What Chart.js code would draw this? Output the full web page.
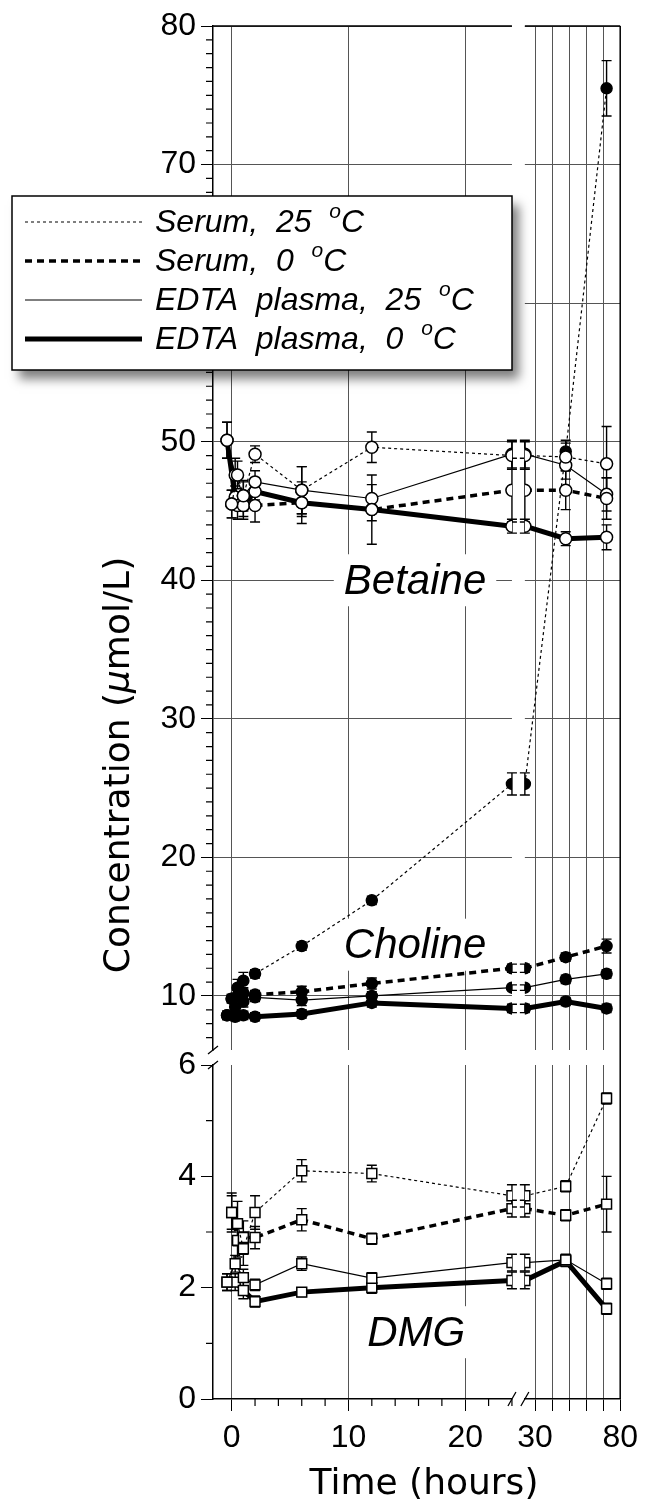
<!DOCTYPE html>
<html>
<head>
<meta charset="utf-8">
<script src="https://cdn.jsdelivr.net/npm/chart.js@4.4.1/dist/chart.umd.min.js"></script>
<style>
  body { margin: 0; background: #fff; }
  canvas { display: block; }
</style>
</head>
<body>
<canvas id="chart" width="646" height="1507"></canvas>
<script>
// sampling times (hours); the 24 h sample is drawn on both sides of the axis break
const serumTimes = [0, 0.5, 1, 2, 6, 12, 24, 48, 72];
const plasmaTimes = [-0.4, 0.3, 1, 2, 6, 12, 24, 48, 72];
const splitIndex = 6;

const seriesNames = ['Serum,  25  ', 'Serum,  0  ', 'EDTA  plasma,  25  ', 'EDTA  plasma,  0  '];

// Betaine (umol/L)
const betaineSerum25 = [45.5, 47.6, 46.1, 49.1, 46.5, 49.6, 49.0, 48.9, 48.4];
const betaineSerum0 = [45.5, 45.4, 45.4, 45.4, 45.6, 45.1, 46.5, 46.5, 45.9];
const betaineEdta25 = [50.1, 47.6, 46.1, 47.1, 46.5, 45.9, 49.1, 48.3, 46.2];
const betaineEdta0 = [50.1, 46.0, 45.4, 46.4, 45.6, 45.1, 43.9, 43.0, 43.1];
const betaineSerum25Err = [1.0, 1.0, 1.0, 0.6, 1.7, 1.1, 1.0, 1.0, 2.7];
const betaineSerum0Err = [1.0, 1.0, 1.0, 1.2, 1.5, 2.5, 2.3, 1.4, 1.5];
const betaineEdta25Err = [1.3, 1.2, 1.1, 0.8, 1.7, 1.0, 1.0, 1.0, 1.2];
const betaineEdta0Err = [1.3, 0.8, 0.8, 0.6, 1.0, 0.8, 0.5, 0.5, 0.9];

// Choline (umol/L)
const cholineSerum25 = [9.8, 10.6, 11.1, 11.6, 13.6, 16.9, 25.3, 49.3, 75.5];
const cholineSerum0 = [9.8, 10.0, 10.2, 10.1, 10.3, 10.9, 12.0, 12.8, 13.6];
const cholineEdta25 = [8.6, 9.2, 9.6, 9.9, 9.7, 10.0, 10.6, 11.2, 11.6];
const cholineEdta0 = [8.6, 8.5, 8.6, 8.5, 8.7, 9.5, 9.1, 9.6, 9.1];
const cholineSerum25Err = [0.3, 0.6, 0.6, 0.3, 0.3, 0.3, 0.8, 0.8, 2.0];
const cholineSerum0Err = [0.3, 0.4, 0.4, 0.3, 0.4, 0.4, 0.3, 0.3, 0.5];
const cholineEdta25Err = [0.3, 0.4, 0.4, 0.3, 0.4, 0.3, 0.2, 0.3, 0.3];
const cholineEdta0Err = [0.3, 0.3, 0.3, 0.3, 0.3, 0.3, 0.3, 0.3, 0.3];

// DMG (umol/L)
const dmgSerum25 = [3.35, 3.15, 2.7, 3.35, 4.1, 4.05, 3.65, 3.82, 5.4];
const dmgSerum0 = [3.35, 2.85, 2.9, 2.9, 3.22, 2.88, 3.42, 3.3, 3.5];
const dmgEdta25 = [2.1, 2.43, 2.18, 2.05, 2.43, 2.17, 2.45, 2.5, 2.07];
const dmgEdta0 = [2.1, 2.1, 1.95, 1.75, 1.92, 2.0, 2.13, 2.48, 1.62];
const dmgSerum25Err = [0.35, 0.4, 0.3, 0.3, 0.2, 0.15, 0.2, 0.1, 0.1];
const dmgSerum0Err = [0.3, 0.3, 0.3, 0.2, 0.2, 0.1, 0.15, 0.1, 0.5];
const dmgEdta25Err = [0.15, 0.15, 0.15, 0.1, 0.12, 0.1, 0.15, 0.1, 0.1];
const dmgEdta0Err = [0.15, 0.15, 0.15, 0.1, 0.08, 0.1, 0.15, 0.1, 0.1];

// axis labels
const yTopLabels = [10, 20, 30, 40, 50, 60, 70, 80];
const yBottomLabels = [0, 2, 4, 6];
const xLeftLabels = [0, 10, 20];
const xRightLabels = [30, 80];
const xRightGrid = [30, 40, 50, 60, 70];

const lineStyles = [
  { width: 1.2, dash: [3, 3] },
  { width: 3.5, dash: [7, 5] },
  { width: 1.2, dash: [] },
  { width: 5, dash: [] }
];
const openCircle = { style: 'circle', radius: 6, fill: '#fff' };
const dot = { style: 'circle', radius: 5.5, fill: '#000' };
const openSquare = { style: 'rect', radius: 7, fill: '#fff' };

const sans = '"Liberation Sans", Arial, Helvetica, sans-serif';
const wide = '"DejaVu Sans", Verdana, sans-serif';
const gridGray = '#555';

function range(a, b, step) {
  const r = [];
  for (let v = a; v <= b + 1e-9; v += step) r.push(+v.toFixed(3));
  return r;
}

function buildSets(values, errors, times, style, marker, yAxisID) {
  const pts = values.map((v, i) => ({ x: times[i], y: v }));
  const base = {
    borderColor: '#000', borderWidth: style.width, borderDash: style.dash,
    pointStyle: marker.style, pointRadius: marker.radius, pointHoverRadius: marker.radius,
    pointBackgroundColor: marker.fill, pointBorderColor: '#000', pointBorderWidth: 1.5,
    tension: 0, fill: false, yAxisID: yAxisID
  };
  return [
    Object.assign({}, base, { xAxisID: 'xL', data: pts.slice(0, splitIndex + 1), errors: errors.slice(0, splitIndex + 1) }),
    Object.assign({}, base, { xAxisID: 'xR', data: pts.slice(splitIndex), errors: errors.slice(splitIndex) })
  ];
}

const datasets = [].concat(
  buildSets(betaineSerum25, betaineSerum25Err, serumTimes, lineStyles[0], openCircle, 'yTop'),
  buildSets(betaineSerum0, betaineSerum0Err, serumTimes, lineStyles[1], openCircle, 'yTop'),
  buildSets(betaineEdta25, betaineEdta25Err, plasmaTimes, lineStyles[2], openCircle, 'yTop'),
  buildSets(betaineEdta0, betaineEdta0Err, plasmaTimes, lineStyles[3], openCircle, 'yTop'),
  buildSets(cholineSerum25, cholineSerum25Err, serumTimes, lineStyles[0], dot, 'yTop'),
  buildSets(cholineSerum0, cholineSerum0Err, serumTimes, lineStyles[1], dot, 'yTop'),
  buildSets(cholineEdta25, cholineEdta25Err, plasmaTimes, lineStyles[2], dot, 'yTop'),
  buildSets(cholineEdta0, cholineEdta0Err, plasmaTimes, lineStyles[3], dot, 'yTop'),
  buildSets(dmgSerum25, dmgSerum25Err, serumTimes, lineStyles[0], openSquare, 'yBot'),
  buildSets(dmgSerum0, dmgSerum0Err, serumTimes, lineStyles[1], openSquare, 'yBot'),
  buildSets(dmgEdta25, dmgEdta25Err, plasmaTimes, lineStyles[2], openSquare, 'yBot'),
  buildSets(dmgEdta0, dmgEdta0Err, plasmaTimes, lineStyles[3], openSquare, 'yBot')
);

const tickFont = { family: sans, size: 32 };

function gapScale(pos, stack, weight) {
  return {
    type: 'linear', position: pos, stack: stack, stackWeight: weight,
    ticks: { display: false }, grid: { display: false }, border: { display: false },
    afterFit: s => { if (pos === 'left') s.width = 213; else s.height = 108; }
  };
}

// short minor ticks, drawn through the scales
function minorTicks(ctx, scale, values, majors, len) {
  values.filter(v => !majors.includes(v)).forEach(v => {
    const p = scale.getPixelForValue(v);
    if (scale.isHorizontal()) { ctx.moveTo(p, scale.top); ctx.lineTo(p, scale.top + len); }
    else { ctx.moveTo(scale.right, p); ctx.lineTo(scale.right - len, p); }
  });
}

// labels on white patches, gaps of the broken axes, error bars
const backdrop = {
  id: 'backdrop',
  beforeDatasetsDraw(chart) {
    const ctx = chart.ctx;
    const { xL, xR, yTop, yBot } = chart.scales;
    const area = chart.chartArea;
    ctx.save();
    ctx.fillStyle = '#fff';
    ctx.fillRect(xL.right, area.top - 2, xR.left - xL.right, area.bottom - area.top + 1);
    ctx.fillRect(area.left + 1, yTop.bottom, area.right - area.left, yBot.top - yTop.bottom);

    const labels = [
      { text: 'Betaine', x: xL.getPixelForValue(15.7), y: yTop.getPixelForValue(40) },
      { text: 'Choline', x: xL.getPixelForValue(15.7), y: yTop.getPixelForValue(13.7) },
      { text: 'DMG', x: xL.getPixelForValue(15.8), y: yBot.getPixelForValue(1.2) }
    ];
    ctx.font = 'italic 42px ' + sans;
    ctx.textAlign = 'center';
    ctx.textBaseline = 'middle';
    labels.forEach(l => {
      const w = ctx.measureText(l.text).width;
      ctx.fillStyle = '#fff';
      ctx.fillRect(l.x - w / 2 - 10, l.y - 26, w + 20, 52);
      ctx.fillStyle = '#000';
      ctx.fillText(l.text, l.x, l.y + 2);
    });

    ctx.strokeStyle = '#000';
    ctx.lineWidth = 1.4;
    chart.data.datasets.forEach(ds => {
      const xs = chart.scales[ds.xAxisID], ys = chart.scales[ds.yAxisID];
      ds.data.forEach((p, i) => {
        const e = ds.errors[i];
        if (!e) return;
        const x = xs.getPixelForValue(p.x);
        const y1 = ys.getPixelForValue(p.y - e);
        const y2 = ys.getPixelForValue(p.y + e);
        ctx.beginPath();
        ctx.moveTo(x, y1); ctx.lineTo(x, y2);
        ctx.moveTo(x - 5, y1); ctx.lineTo(x + 5, y1);
        ctx.moveTo(x - 5, y2); ctx.lineTo(x + 5, y2);
        ctx.stroke();
      });
    });
    ctx.restore();
  },
  afterDraw(chart) {
    const ctx = chart.ctx;
    const { xL, xR, yTop, yBot } = chart.scales;
    const area = chart.chartArea;
    ctx.save();
    // frame on top and right
    ctx.strokeStyle = '#000';
    ctx.lineWidth = 1.5;
    ctx.beginPath();
    ctx.moveTo(area.left, area.top); ctx.lineTo(xL.right, area.top);
    ctx.moveTo(xR.left, area.top); ctx.lineTo(area.right, area.top);
    ctx.moveTo(area.right, area.top); ctx.lineTo(area.right, area.bottom);
    ctx.stroke();
    // minor ticks
    ctx.lineWidth = 1.2;
    ctx.beginPath();
    minorTicks(ctx, yTop, range(7, 80, 1), yTopLabels, 7);
    minorTicks(ctx, yBot, range(0, 6, 1), yBottomLabels, 7);
    minorTicks(ctx, xL, range(0, 24, 2), xLeftLabels, 7);
    ctx.stroke();
    // break marks
    ctx.lineWidth = 1.3;
    ctx.beginPath();
    [yTop.bottom, yBot.top].forEach(y => { ctx.moveTo(area.left - 5, y + 4); ctx.lineTo(area.left + 5, y - 4); });
    [xL.right, xR.left].forEach(x => { ctx.moveTo(x - 4, area.bottom + 7); ctx.lineTo(x + 4, area.bottom - 7); });
    ctx.stroke();

    // axis titles
    ctx.fillStyle = '#000';
    ctx.textBaseline = 'middle';
    ctx.textAlign = 'center';
    ctx.font = '36px ' + wide;
    ctx.fillText('Time (hours)', 424, 1485);

    ctx.save();
    ctx.translate(120, 765);
    ctx.rotate(-Math.PI / 2);
    const parts = [['Concentration (', '36px '], ['\u03bc', 'italic 36px '], ['mol/L)', '36px ']];
    let total = 0;
    parts.forEach(p => { ctx.font = p[1] + wide; total += ctx.measureText(p[0]).width; });
    let x = -total / 2;
    ctx.textAlign = 'left';
    parts.forEach(p => { ctx.font = p[1] + wide; ctx.fillText(p[0], x, 0); x += ctx.measureText(p[0]).width; });
    ctx.restore();

    // legend
    const box = { x: 12, y: 196, w: 500, h: 174 };
    ctx.save();
    ctx.shadowColor = 'rgba(0,0,0,0.5)';
    ctx.shadowBlur = 10;
    ctx.shadowOffsetX = 7;
    ctx.shadowOffsetY = 9;
    ctx.fillStyle = '#fff';
    ctx.fillRect(box.x, box.y, box.w, box.h);
    ctx.restore();
    ctx.strokeStyle = '#000';
    ctx.lineWidth = 1.5;
    ctx.strokeRect(box.x, box.y, box.w, box.h);
    seriesNames.forEach((name, i) => {
      const y = 222 + i * 39;
      ctx.beginPath();
      ctx.lineWidth = lineStyles[i].width;
      ctx.setLineDash(lineStyles[i].dash);
      ctx.moveTo(25, y); ctx.lineTo(142, y);
      ctx.stroke();
      ctx.setLineDash([]);
      ctx.textAlign = 'left';
      ctx.font = 'italic 32px ' + sans;
      ctx.fillText(name, 155, y + 1);
      let tx = 155 + ctx.measureText(name).width;
      ctx.font = 'italic 21px ' + sans;
      ctx.fillText('o', tx, y - 10);
      tx += ctx.measureText('o').width;
      ctx.font = 'italic 32px ' + sans;
      ctx.fillText('C', tx, y + 1);
    });
    ctx.restore();
  }
};

function majorTickColor(majors) {
  return c => majors.includes(c.tick.value) ? '#000' : 'rgba(0,0,0,0)';
}

new Chart(document.getElementById('chart'), {
  type: 'line',
  data: { datasets: datasets },
  options: {
    responsive: false,
    animation: false,
    events: [],
    layout: { padding: { top: 26, right: 23, left: 0, bottom: 0 } },
    plugins: { legend: { display: false }, tooltip: { enabled: false } },
    scales: {
      xL: {
        type: 'linear', position: 'bottom', stack: 'x', stackWeight: 301, min: -1.6, max: 24,
        afterBuildTicks: s => { s.ticks = range(0, 24, 2).map(v => ({ value: v })); },
        afterFit: s => { s.height = 108; },
        ticks: { autoSkip: false, maxRotation: 0, font: tickFont, color: '#000', padding: 8,
          callback: v => xLeftLabels.includes(v) ? String(v) : '' },
        grid: { color: c => xLeftLabels.includes(c.tick.value) ? gridGray : 'rgba(0,0,0,0)',
          tickColor: majorTickColor(xLeftLabels), tickLength: 12, lineWidth: 1 },
        border: { color: '#000', width: 1.5 }
      },
      xGap: gapScale('bottom', 'x', 13),
      xR: {
        type: 'linear', position: 'bottom', stack: 'x', stackWeight: 96, min: 24, max: 80,
        afterBuildTicks: s => { s.ticks = range(30, 80, 10).map(v => ({ value: v })); },
        afterFit: s => { s.height = 108; },
        ticks: { autoSkip: false, maxRotation: 0, font: tickFont, color: '#000', padding: 8,
          callback: v => xRightLabels.includes(v) ? String(v) : '' },
        grid: { color: c => xRightGrid.includes(c.tick.value) ? gridGray : 'rgba(0,0,0,0)',
          tickColor: '#000', tickLength: 12, lineWidth: 1 },
        border: { color: '#000', width: 1.5 }
      },
      yBot: {
        type: 'linear', position: 'left', stack: 'y', stackWeight: 334, min: 0, max: 6,
        afterBuildTicks: s => { s.ticks = range(0, 6, 1).map(v => ({ value: v })); },
        afterFit: s => { s.width = 213; },
        ticks: { autoSkip: false, font: tickFont, color: '#000', padding: 5,
          callback: v => yBottomLabels.includes(v) ? String(v) : '' },
        grid: { color: 'rgba(0,0,0,0)', tickColor: majorTickColor(yBottomLabels), tickLength: 12 },
        border: { color: '#000', width: 1.5 }
      },
      yGap: gapScale('left', 'y', 15),
      yTop: {
        type: 'linear', position: 'left', stack: 'y', stackWeight: 1024, min: 6.1, max: 80,
        afterBuildTicks: s => { s.ticks = range(7, 80, 1).map(v => ({ value: v })); },
        afterFit: s => { s.width = 213; },
        ticks: { autoSkip: false, font: tickFont, color: '#000', padding: 5,
          callback: v => yTopLabels.includes(v) ? String(v) : '' },
        grid: { color: c => yTopLabels.includes(c.tick.value) ? gridGray : 'rgba(0,0,0,0)',
          tickColor: majorTickColor(yTopLabels), tickLength: 12, lineWidth: 1 },
        border: { color: '#000', width: 1.5 }
      }
    }
  },
  plugins: [backdrop]
});
</script>
</body>
</html>
